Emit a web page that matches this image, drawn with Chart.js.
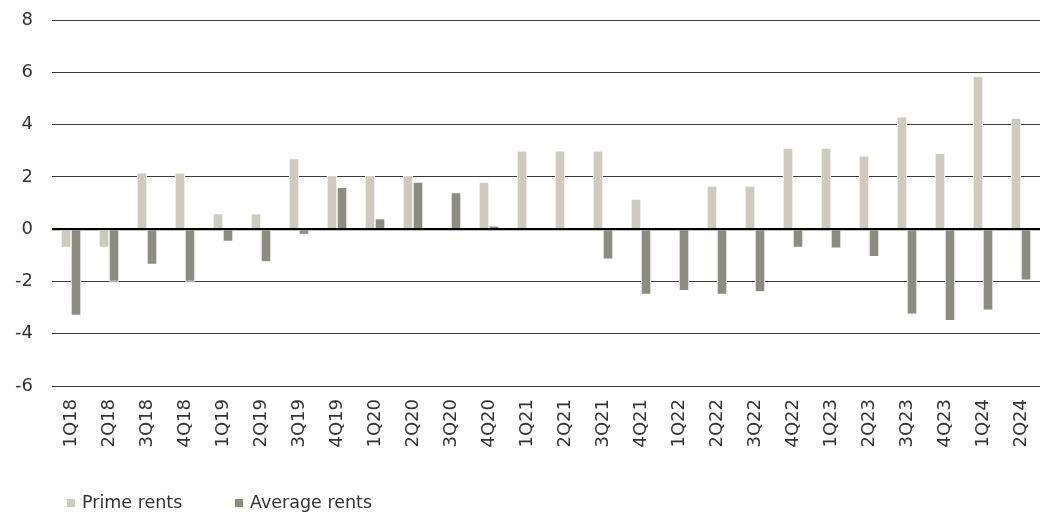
<!DOCTYPE html>
<html><head><meta charset="utf-8">
<script src="https://cdn.jsdelivr.net/npm/chart.js@4/dist/chart.umd.min.js"></script>
<style>html,body{margin:0;padding:0;background:#fff}#wrap{width:1042px;height:515px}</style>
</head><body><div id="wrap"><canvas id="c" width="1042" height="515"></canvas></div>
<script>
const categories = ["1Q18","2Q18","3Q18","4Q18","1Q19","2Q19","3Q19","4Q19","1Q20","2Q20","3Q20","4Q20","1Q21","2Q21","3Q21","4Q21","1Q22","2Q22","3Q22","4Q22","1Q23","2Q23","3Q23","4Q23","1Q24","2Q24"];
const primeRents = [-0.7,-0.7,2.15,2.15,0.6,0.6,2.7,2.05,2.05,2.05,0,1.8,3.0,3.0,3.0,1.15,0,1.65,1.65,3.1,3.1,2.8,4.3,2.9,5.85,4.25];
const averageRents = [-3.3,-2.0,-1.35,-2.0,-0.47,-1.25,-0.2,1.6,0.4,1.8,1.4,0.13,0,0,-1.15,-2.5,-2.35,-2.5,-2.4,-0.7,-0.73,-1.05,-3.25,-3.5,-3.1,-1.95];
const yTicks = [-6,-4,-2,0,2,4,6,8];

const FONT = "'DejaVu Sans', sans-serif";

// Legend drawn from the datasets (labels + colours)
const bottomLegend = {
  id: 'bottomLegend',
  afterDraw(chart) {
    const ctx = chart.ctx;
    const starts = [67, 235];
    ctx.save();
    ctx.font = "17.5px " + FONT;
    ctx.textBaseline = 'middle';
    chart.data.datasets.forEach((ds, i) => {
      const x = starts[i];
      ctx.fillStyle = ds.backgroundColor;
      ctx.fillRect(x, 499, 8, 8);
      ctx.fillStyle = '#333';
      ctx.fillText(ds.label, x + 15, 503);
    });
    ctx.restore();
  }
};

new Chart(document.getElementById('c'), {
  type: 'bar',
  data: {
    labels: categories,
    datasets: [
      {label: 'Prime rents', data: primeRents, backgroundColor: '#cdcbbd', borderColor: '#ffffff', borderWidth: 1, barThickness: 10},
      {label: 'Average rents', data: averageRents, backgroundColor: '#8c8c81', borderColor: '#ffffff', borderWidth: 1, barThickness: 10}
    ]
  },
  plugins: [bottomLegend],
  options: {
    responsive: false,
    animation: false,
    layout: {padding: {top: 20, right: 2, left: 0, bottom: 0}},
    plugins: {
      tooltip: {enabled: false},
      legend: {display: false}
    },
    scales: {
      x: {
        grid: {display: false, drawTicks: false},
        border: {display: false},
        ticks: {color: '#333', font: {family: FONT, size: 18}, maxRotation: 90, minRotation: 90, autoSkip: false, padding: 13},
        afterFit(s){ s.height = 129; s.paddingLeft = 0; s.paddingRight = 0; }
      },
      y: {
        min: -6, max: 8,
        afterBuildTicks(s){ s.ticks = yTicks.map(v => ({value: v})); },
        grid: {
          color: ctx => ctx.tick && ctx.tick.value === 0 ? '#000' : '#3a3a3a',
          lineWidth: ctx => ctx.tick && ctx.tick.value === 0 ? 2.2 : 1,
          drawTicks: false
        },
        border: {display: false},
        ticks: {color: '#333', font: {family: FONT, size: 18}, padding: 19},
        afterFit(s){ s.width = 52; s.paddingTop = 0; s.paddingBottom = 0; }
      }
    }
  }
});
</script></body></html>
